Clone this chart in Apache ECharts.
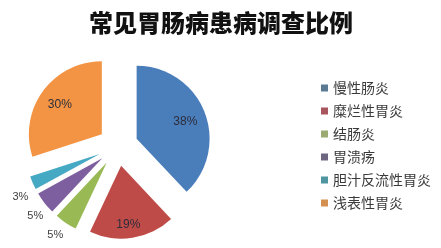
<!DOCTYPE html>
<html>
<head>
<meta charset="utf-8">
<script src="https://cdn.jsdelivr.net/npm/echarts@6/dist/echarts.min.js"></script>
<style>
html,body{margin:0;padding:0;background:#fff;}
#chart{width:441px;height:248px;}
</style>
</head>
<body>
<div id="chart"></div>
<script>
// Survey of common gastrointestinal conditions (percent of patients)
const categories = ['慢性肠炎', '糜烂性胃炎', '结肠炎', '胃溃疡', '胆汁反流性胃炎', '浅表性胃炎'];
const values = [38, 19, 5, 5, 3, 30];
const colors = ['#4a7ebb', '#be4b48', '#98b954', '#7d5fa0', '#46a9c4', '#f29444'];
const legendColors = ['#5a7a94', '#a85560', '#9aaa72', '#6e6680', '#4f96a0', '#d49050'];

// big slices carry their percentage inside, thin slices outside
const labelPositions = ['inside', 'inside', 'outside', 'outside', 'outside', 'inside'];
// nudges applied after the library lays the labels out
const labelShift = [[12, -2], [1, 20], [7, 5], [10, 8], [8, 11], [-10, -6]];

const chart = echarts.init(document.getElementById('chart'), null, { renderer: 'canvas' });

chart.setOption({
  backgroundColor: '#ffffff',
  animation: false,
  title: {
    text: '常见胃肠病患病调查比例',
    left: 84,
    top: 6,
    textStyle: {
      fontFamily: 'Noto Sans CJK SC',
      fontSize: 24,
      fontWeight: 900,
      color: '#111'
    }
  },
  legend: {
    orient: 'vertical',
    left: 316,
    top: 76,
    itemWidth: 7,
    itemHeight: 7,
    itemGap: 9,
    icon: 'rect',
    textStyle: {
      fontFamily: 'Noto Sans CJK SC',
      fontSize: 14,
      color: '#3a3a3a'
    },
    data: categories.map((c, i) => ({ name: c, itemStyle: { color: legendColors[i] } }))
  },
  series: [{
    type: 'pie',
    center: [118, 146],
    radius: 73,
    startAngle: 90,
    clockwise: true,
    selectedMode: 'multiple',
    selectedOffset: 20,
    emphasis: { disabled: true },
    label: {
      formatter: '{d}%',
      fontFamily: 'Liberation Sans',
      fontSize: 11,
      color: '#404040'
    },
    labelLine: { show: false, length: 8, length2: 0 },
    labelLayout: function (params) {
      const s = labelShift[params.dataIndex];
      return { dx: s[0], dy: s[1] };
    },
    data: categories.map((c, i) => ({
      name: c,
      value: values[i],
      selected: true,
      itemStyle: { color: colors[i] },
      label: labelPositions[i] === 'inside'
        ? { position: 'inside', fontSize: 12, color: '#2d2d3a' }
        : { position: 'outside' }
    }))
  }]
});
</script>
</body>
</html>
